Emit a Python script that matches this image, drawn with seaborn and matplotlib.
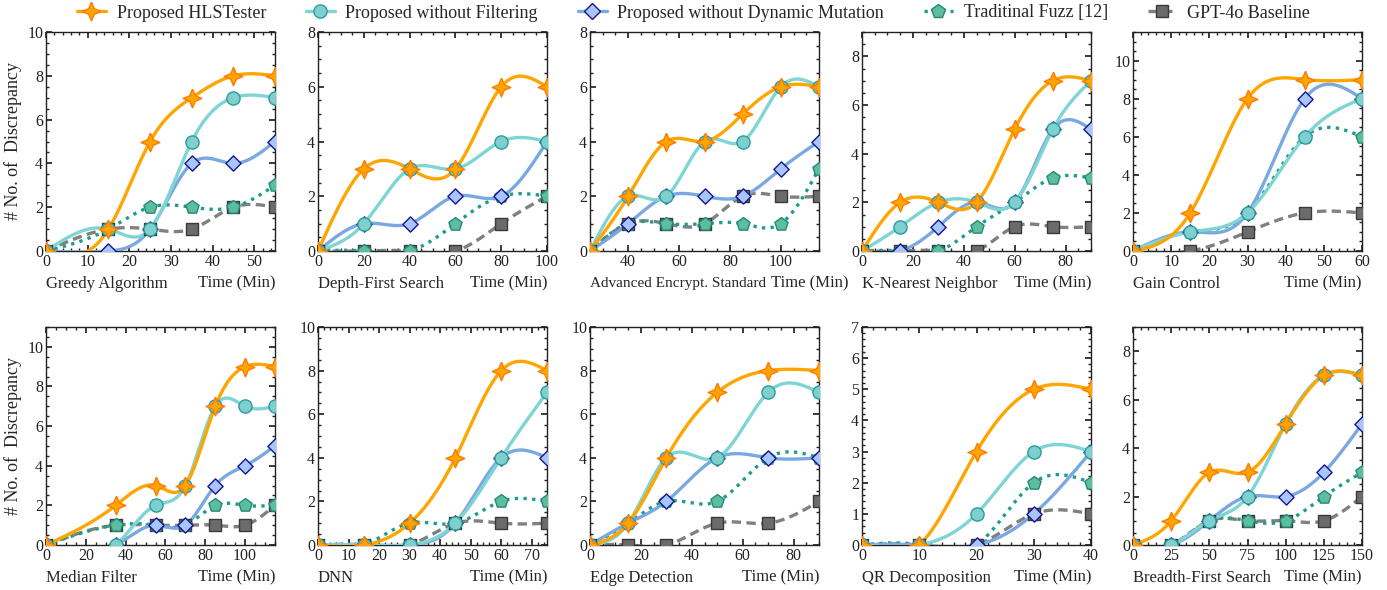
import numpy as np
import matplotlib
matplotlib.use("Agg")
import matplotlib.pyplot as plt
from matplotlib.lines import Line2D
from matplotlib.ticker import AutoMinorLocator, MultipleLocator
import seaborn as sns

# Methods, in legend order
methods = ["Proposed HLSTester", "Proposed without Filtering",
           "Proposed without Dynamic Mutation", "Traditinal Fuzz [12]",
           "GPT-4o Baseline"]

# Data: time points and discrepancy counts per method
greedy_t = [0, 15, 25, 35, 45, 55]
greedy = [[0, 1, 5, 7, 8, 8], [0, 1, 1, 5, 7, 7], [0, 0, 1, 4, 4, 5],
          [0, 1, 2, 2, 2, 3], [0, 1, 1, 1, 2, 2]]

dfs_t = [0, 20, 40, 60, 80, 100]
dfs = [[0, 3, 3, 3, 6, 6], [0, 1, 3, 3, 4, 4], [0, 1, 1, 2, 2, 4],
       [0, 0, 0, 1, 2, 2], [0, 0, 0, 0, 1, 2]]

aes_t = [25, 40, 55, 70, 85, 100, 115]
aes = [[0, 2, 4, 4, 5, 6, 6], [0, 2, 2, 4, 4, 6, 6], [0, 1, 2, 2, 2, 3, 4],
       [0, 1, 1, 1, 1, 1, 3], [0, 1, 1, 1, 2, 2, 2]]

knn_t = [0, 15, 30, 45, 60, 75, 90]
knn = [[0, 2, 2, 2, 5, 7, 7], [0, 1, 2, 2, 2, 5, 7], [0, 0, 1, 2, 2, 5, 5],
       [0, 0, 0, 1, 2, 3, 3], [0, 0, 0, 0, 1, 1, 1]]

gain_t = [0, 15, 30, 45, 60]
gain = [[0, 2, 8, 9, 9], [0, 1, 2, 6, 8], [0, 1, 2, 8, 8],
        [0, 1, 2, 6, 6], [0, 0, 1, 2, 2]]

median_t = [0, 35, 55, 70, 85, 100, 115]
median = [[0, 2, 3, 3, 7, 9, 9], [0, 0, 2, 3, 7, 7, 7], [0, 0, 1, 1, 3, 4, 5],
          [0, 1, 1, 1, 2, 2, 2], [0, 1, 1, 1, 1, 1, 2]]

dnn_t = [0, 15, 30, 45, 60, 75]
dnn = [[0, 0, 1, 4, 8, 8], [0, 0, 0, 1, 4, 7], [0, 0, 0, 1, 4, 4],
       [0, 0, 1, 1, 2, 2], [0, 0, 0, 1, 1, 1]]

edge_t = [0, 15, 30, 50, 70, 90]
edge = [[0, 1, 4, 7, 8, 8], [0, 1, 4, 4, 7, 7], [0, 1, 2, 4, 4, 4],
        [0, 1, 2, 2, 4, 4], [0, 0, 0, 1, 1, 2]]

qr_t = [0, 10, 20, 30, 40]
qr = [[0, 0, 3, 5, 5], [0, 0, 1, 3, 3], [0, 0, 0, 1, 3],
      [0, 0, 0, 2, 2], [0, 0, 0, 1, 1]]

bfs_t = [0, 25, 50, 75, 100, 125, 150]
bfs = [[0, 1, 3, 3, 5, 7, 7], [0, 0, 1, 2, 5, 7, 7], [0, 0, 1, 2, 2, 3, 5],
       [0, 0, 1, 1, 1, 2, 3], [0, 0, 1, 1, 1, 1, 2]]

# name, times, values, xlim, xstep, ylim, ystep
panels = [
    ("Greedy Algorithm", greedy_t, greedy, (0, 55), 10, 10, 2),
    ("Depth-First Search", dfs_t, dfs, (0, 100), 20, 8, 2),
    ("Advanced Encrypt. Standard", aes_t, aes, (25, 115), 20, 8, 2),
    ("K-Nearest Neighbor", knn_t, knn, (0, 90), 20, 9, 2),
    ("Gain Control", gain_t, gain, (0, 60), 10, 11.5, 2),
    ("Median Filter", median_t, median, (0, 115), 20, 11, 2),
    ("DNN", dnn_t, dnn, (0, 75), 10, 10, 2),
    ("Edge Detection", edge_t, edge, (0, 90), 20, 10, 2),
    ("QR Decomposition", qr_t, qr, (0, 40), 10, 7, 1),
    ("Breadth-First Search", bfs_t, bfs, (0, 150), 25, 9, 2),
]


def smooth(x, y, n=300):
    # natural cubic spline through the points
    x = np.asarray(x, float)
    y = np.asarray(y, float)
    k = len(x)
    h = np.diff(x)
    A = np.zeros((k, k))
    b = np.zeros(k)
    A[0, 0] = 1
    A[-1, -1] = 1
    for i in range(1, k - 1):
        A[i, i - 1] = h[i - 1]
        A[i, i] = 2 * (h[i - 1] + h[i])
        A[i, i + 1] = h[i]
        b[i] = 6 * ((y[i + 1] - y[i]) / h[i] - (y[i] - y[i - 1]) / h[i - 1])
    M = np.linalg.solve(A, b)
    xs = np.linspace(x[0], x[-1], n)
    idx = np.clip(np.searchsorted(x, xs) - 1, 0, k - 2)
    x0, x1, hh = x[idx], x[idx + 1], h[idx]
    ys = (M[idx] * (x1 - xs) ** 3 / (6 * hh) + M[idx + 1] * (xs - x0) ** 3 / (6 * hh)
          + (y[idx] / hh - M[idx] * hh / 6) * (x1 - xs)
          + (y[idx + 1] / hh - M[idx + 1] * hh / 6) * (xs - x0))
    return xs, ys


a = 0.3
star = [(0, 1), (a, a), (1, 0), (a, -a), (0, -1), (-a, -a), (-1, 0), (-a, a), (0, 1)]

styles = [
    dict(color="#FFA500", ls="-", marker=star, s=180, fc="#FFA500", ec="#FF7A00"),
    dict(color="#7FD4D4", ls="-", marker="o", s=90, fc="#7FCFCF", ec="#2A9D9D"),
    dict(color="#7AA8E0", ls="-", marker="D", s=60, fc="#A9C5FF", ec="#16168A"),
    dict(color="#1F9C8C", ls=(0, (1, 1.6)), marker="p", s=100, fc="#5DBE9E", ec="#23897A"),
    dict(color="#808080", ls=(0, (2.8, 1.6)), marker="s", s=70, fc="#6B6B6B", ec="#3A3A3A"),
]

sns.set_theme(style="ticks")
plt.rcParams["font.family"] = ["Liberation Serif", "DejaVu Serif"]
plt.rcParams.update({
    "xtick.direction": "in", "ytick.direction": "in",
    "xtick.top": True, "ytick.right": True,
    "xtick.minor.visible": True, "ytick.minor.visible": True,
    "xtick.major.size": 4, "ytick.major.size": 4,
    "xtick.minor.size": 2.2, "ytick.minor.size": 2.2,
    "xtick.labelsize": 11.5, "ytick.labelsize": 11.5,
    "xtick.color": "#222222", "ytick.color": "#222222",
    "axes.edgecolor": "#222222", "axes.linewidth": 1.0,
})

W, H = 1387, 590
fig = plt.figure(figsize=(W / 100, H / 100), dpi=100)
lefts = [46, 318, 590, 862, 1133]
rows = [(32, 251), (327, 545)]

for p, (name, t, vals, xlim, xstep, ytop, ystep) in enumerate(panels):
    r, c = divmod(p, 5)
    top, bot = rows[r]
    ax = fig.add_axes([lefts[c] / W, 1 - bot / H, 229 / W, (bot - top) / H])
    # draw from last to first so HLSTester ends on top
    for j in range(4, -1, -1):
        st = styles[j]
        xs, ys = smooth(t, vals[j])
        sns.lineplot(x=xs, y=ys, ax=ax, color=st["color"], lw=2.4,
                     linestyle=st["ls"], sort=False, estimator=None, zorder=2 + (4 - j))
        sns.scatterplot(x=t, y=vals[j], ax=ax, marker=st["marker"], s=st["s"],
                        color=st["fc"], edgecolor=st["ec"], linewidth=1.0,
                        zorder=10 + (4 - j))
    ax.set_xlim(*xlim)
    ax.set_ylim(0, ytop)
    ax.xaxis.set_major_locator(MultipleLocator(xstep))
    ax.yaxis.set_major_locator(MultipleLocator(ystep))
    ax.xaxis.set_minor_locator(AutoMinorLocator())
    ax.yaxis.set_minor_locator(AutoMinorLocator())
    ax.tick_params(which="both", pad=2)
    ax.set_xlabel("")
    ax.set_ylabel("")
    name_fs = 11 if p == 2 else 12
    ax.text(0, -0.15, name, transform=ax.transAxes, ha="left", va="center", fontsize=name_fs)
    tx = 1.13 if p == 2 else 1.0
    ax.text(tx, -0.15, "Time (Min)", transform=ax.transAxes, ha="right", va="center",
            fontsize=12)
    if c == 0:
        ax.set_ylabel("# No. of  Discrepancy", fontsize=13)
        ax.yaxis.set_label_coords(-0.105, 0.5)

handles = [Line2D([], [], color=st["color"], lw=2.4, ls=st["ls"], marker=st["marker"],
                  markersize=np.sqrt(st["s"]), markerfacecolor=st["fc"],
                  markeredgecolor=st["ec"]) for st in styles]
fig.legend(handles, methods, loc="center", bbox_to_anchor=(0.5, 1 - 13 / H), ncol=5,
           frameon=False, fontsize=13, handlelength=1.6, handletextpad=0.6,
           columnspacing=2.2)

fig.savefig("out.png", dpi=100)
